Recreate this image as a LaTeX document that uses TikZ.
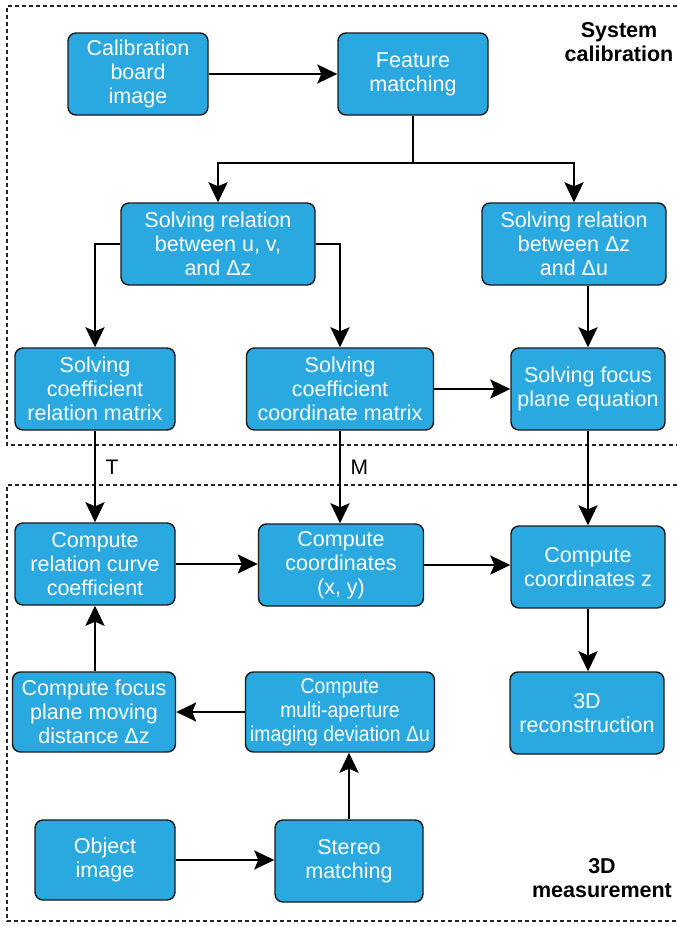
\documentclass[tikz,border=0pt]{standalone}
\usepackage{fontspec}
\setmainfont{Liberation Sans}
\newfontfamily\narrowfont{Liberation Sans}[FakeStretch=0.9]
\usetikzlibrary{arrows.meta}
\definecolor{boxblue}{RGB}{41,169,224}
\def\boxh{82pt}

\begin{document}
\begin{tikzpicture}[x=1pt,y=-1pt,line width=2.6pt]
	\tikzstyle{stepbox}=[draw=black!90,line width=1.4pt,fill=boxblue,rounded corners=8pt,text=white,align=center,minimum height=\boxh,inner sep=1pt,font=\fontsize{21.5}{24}\selectfont]
	\tikzstyle{arr}=[-{Stealth[length=20pt,width=19pt,inset=4pt]}]
	\tikzstyle{zone}=[line width=2pt,dash pattern=on 4pt off 3pt,black!85]
	\tikzstyle{tag}=[font=\fontsize{21}{24}\selectfont]
	\tikzstyle{title}=[font=\bfseries\fontsize{21.5}{24}\selectfont,align=center]
	\useasboundingbox (0,0) rectangle (677,926);

	% Dashed areas
	\draw[zone] (677,6) -| (7,445) -- (677,445);
	\draw[zone] (677,485) -| (7,921) -- (677,921);
	\node[title] (calib) at (619,42) {System\\calibration};
	\node[title] (meas) at (602,878) {3D\\measurement};

	% System calibration
	\node[stepbox,minimum width=140pt] (cal) at (138,74) {Calibration\\board\\image};
	\node[stepbox,minimum width=150pt] (feat) at (413,74) {Feature\\matching};
	\node[stepbox,minimum width=194pt] (relUV) at (218,244) {Solving relation\\between u, v,\\and Δz};
	\node[stepbox,minimum width=184pt] (relDZ) at (574,244) {Solving relation\\between Δz\\and Δu};
	\node[stepbox,minimum width=160pt] (coefRel) at (95,389) {Solving\\coefficient\\relation matrix};
	\node[stepbox,minimum width=187pt] (coefCoord) at (340,389) {Solving\\coefficient\\coordinate matrix};
	\node[stepbox,minimum width=154pt] (focusEq) at (588,389) {Solving focus\\plane equation};
	\coordinate (fork) at (413,163);

	% 3D measurement
	\node[stepbox,minimum width=160pt] (curve) at (95,564) {Compute\\relation curve\\coefficient};
	\node[stepbox,minimum width=165pt] (coordXY) at (341,565) {Compute\\coordinates\\(x, y)};
	\node[stepbox,minimum width=154pt] (coordZ) at (588,567) {Compute\\coordinates z};
	\node[stepbox,minimum width=154pt] (recon) at (587,713) {3D\\reconstruction};
	\node[stepbox,minimum width=163pt,minimum height=80pt] (moveDZ) at (94,712) {Compute focus\\plane moving\\distance Δz};
	\node[stepbox,minimum width=189pt,minimum height=80pt,font=\narrowfont\fontsize{21.5}{24}\selectfont] (devDU) at (340,712) {Compute\\multi-aperture\\imaging deviation Δu};
	\node[stepbox,minimum width=140pt,minimum height=80pt] (obj) at (105,860) {Object\\image};
	\node[stepbox,minimum width=148pt] (stereo) at (349,861) {Stereo\\matching};

	% Connections
	\draw[arr] (cal) -- (feat);
	\draw (feat) -- (fork);
	\draw[arr] (fork) -| (relUV);
	\draw[arr] (fork) -| (relDZ);
	\draw[arr] (relUV.west) -| (coefRel.north);
	\draw[arr] (relUV.east) -| (coefCoord.north);
	\draw[arr] (relDZ.south -| focusEq.north) -- (focusEq.north);
	\draw[arr] (coefCoord) -- (focusEq);
	\draw[arr] (coefRel) -- node[tag,right=6pt,pos=0.4] (labT) {T} (curve);
	\draw[arr] (coefCoord) -- node[tag,right=6pt,pos=0.4] (labM) {M} (coefCoord.south |- coordXY.north);
	\draw[arr] (focusEq) -- (coordZ);
	\draw[arr] (curve.east) -- (curve.east -| coordXY.west);
	\draw[arr] (coordXY.east) -- (coordXY.east -| coordZ.west);
	\draw[arr] (coordZ.south) -- (coordZ.south |- recon.north);
	\draw[arr] (moveDZ.north -| curve.south) -- (curve.south);
	\draw[arr] (devDU) -- (moveDZ);
	\draw[arr] (stereo) -- (stereo.north |- devDU.south);
	\draw[arr] (obj.east) -- (obj.east -| stereo.west);

\end{tikzpicture}
\end{document}
